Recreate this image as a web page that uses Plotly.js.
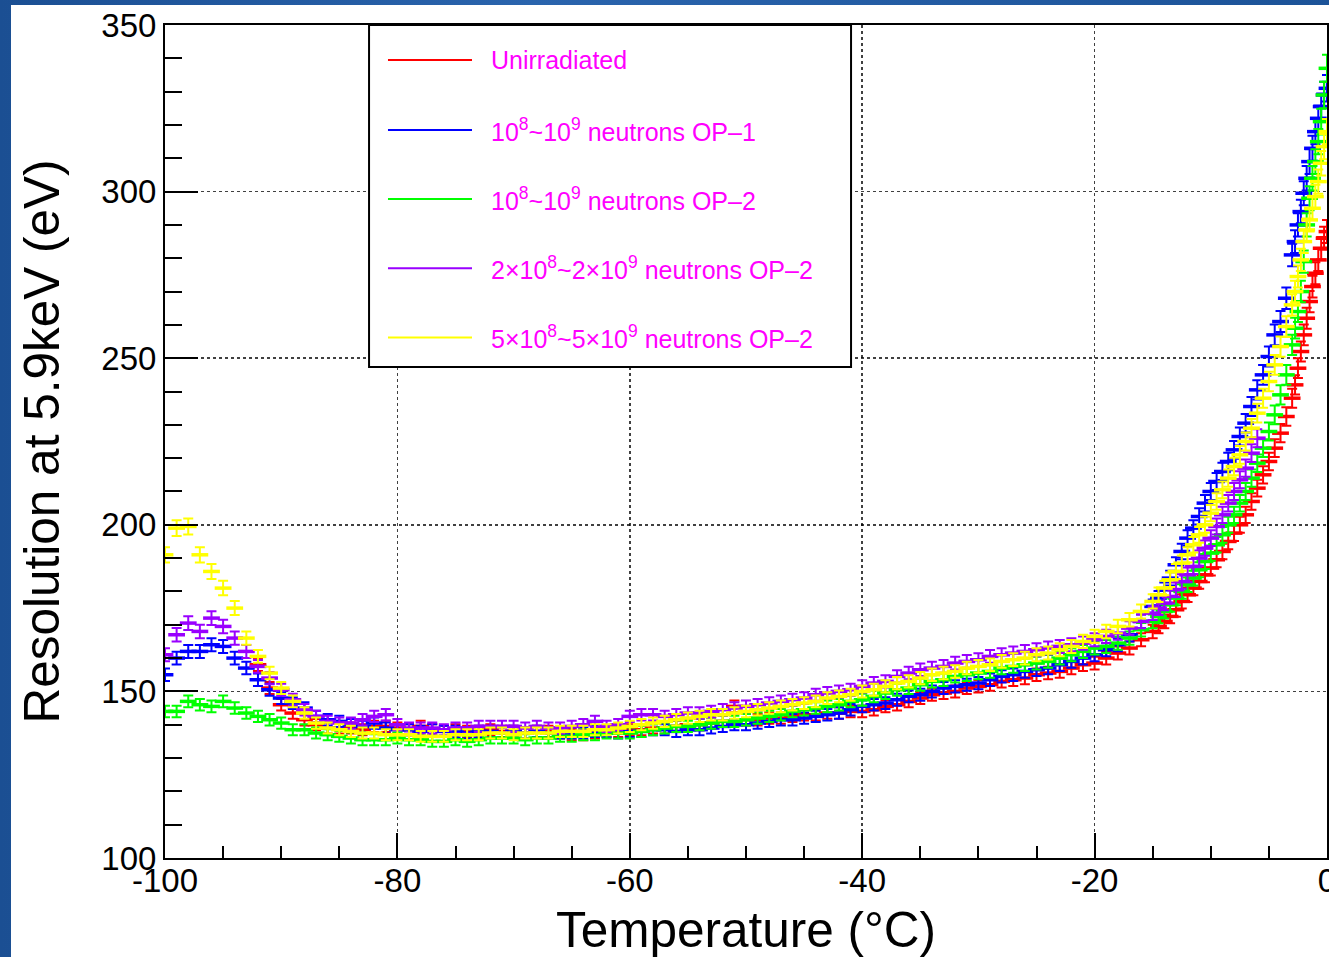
<!DOCTYPE html>
<html>
<head>
<meta charset="utf-8">
<script src="https://cdn.plot.ly/plotly-3.0.1.min.js"></script>
<style>
  html, body { margin: 0; padding: 0; width: 1329px; height: 957px; overflow: hidden;
    background: linear-gradient(90deg, #1b4f93 0%, #2a64ad 40%, #1c5398 100%); }
  #chart { position: absolute; left: 11px; top: 5px; width: 1318px; height: 952px; background: #fff; }
</style>
</head>
<body>
<div id="chart"></div>
<script>
// Temperature grid (°C) shared by all series
const temperature = [
  -100,-99,-98,-97,-96,-95,-94,-93,-92,-91,-90,-89,-88,-87,-86,-85,-84,-83,-82,-81,
  -80,-79,-78,-77,-76,-75,-74,-73,-72,-71,-70,-69,-68,-67,-66,-65,-64,-63,-62,-61,
  -60,-59,-58,-57,-56,-55,-54,-53,-52,-51,-50,-49,-48,-47,-46,-45,-44,-43,-42,-41,
  -40,-39,-38,-37,-36,-35,-34,-33,-32,-31,-30,-29,-28,-27,-26,-25,-24,-23,-22,-21,
  -20,-19,-18,-17,-16,-15,
  -14.5,-14,-13.5,-13,-12.5,-12,-11.5,-11,-10.5,-10,-9.5,-9,-8.5,-8,-7.5,-7,-6.5,-6,-5.5,-5,-4.5,-4,-3.5,
  -3,-2.75,-2.5,-2.25,-2,-1.75,-1.5,-1.25,-1,-0.75,-0.5,-0.25,0
];

// Resolution at 5.9 keV (eV)
const unirradiated = [
  null,null,null,null,null,null,null,null,158,151,146,143.5,141.5,140,139,139,139,138.5,139.5,139.5,
  139,138.5,139.5,138.5,138,138.5,138,138,138.5,138,138,137.5,138,138,137.5,137,137,137.5,138,138,
  138.5,138.5,139,139,139.5,140,140,140.5,141,145.5,141.5,141.5,142,142,142.5,143,143,143.5,143.5,144,
  144,144.5,145.5,146,147,148,149,149.5,150,151,151.5,152,153,153.5,154,155,155.5,156,157,158,
  158.5,160,161.5,163,165.5,168,
  169.5,171,172.5,174.5,177,179,181,183,185,187,189.5,192,195,197.5,200,203,207,211,215,219,223,227.5,232.5,
  238,242,247,252,257,262,267,271.5,275.5,279.5,283,286,288
];
const op1_1e8 = [
  155,160,162,162,164,163.5,160,157,153.5,150.5,148,146.5,145,142.5,141.5,141,140,139.5,140.5,139,
  138.5,138.5,138,138.5,138,138,137.5,138,138,137.5,138,137.5,138,137.5,137.5,137.5,137.5,138,138,137.5,
  138,138,138.5,138.5,138,138.5,138.5,139,139.5,140,140,140.5,141,141.5,141.5,142,142.5,143,143.5,144.5,
  145.5,146,146.5,147.5,148.5,149,150,151,151.5,152,152.5,153.5,154.5,155,156,156.5,157,158,159,160,
  161,162.5,164,167,171,175.5,
  178,180.5,184,188,192,196,199,202.5,206.5,210,213,216,219,222.5,226.5,230.5,235.5,240.5,245,250.5,257,261,268,
  281,285,290,294,299.5,304,309,313,318,322,325.5,329,331
];
const op2_1e8 = [
  144,144,147,146,145.5,147,145,143.5,142.5,141.5,140.5,138.5,138.5,137.5,137,136.5,136,135.5,135.5,135.5,
  136,135.5,135.5,135,135,135.5,135,135.5,136,136,136,135.5,136,136,136.5,136.5,137,137,137.5,137.5,
  137.5,138,138.5,139,139.5,139.5,140,140.5,141,141,141.5,142,142.5,143,144,144.5,145,145.5,146,147,
  147.5,148.5,149.5,150.5,151,152,153,153.5,154.5,155,155.5,156,157,157.5,158,158.5,159,160,161,162,
  163,163.5,164.5,166,168.5,171,
  172.5,174,176,178,180,182,184,186.5,189,191.5,194,197,200,203,206.5,210,214,218.5,223,228,233,239,245,
  254,259,264,270,279,290,298,304,309,315,321,329,337
];
const op2_2e8 = [
  161,167,170.5,168,172,169.5,166,162,157.5,154,150.5,147.5,144.5,142.5,141,140.5,140.5,141.5,142.5,143,
  140,139,139,139,138.5,139,139,139.5,139.5,139.5,139.5,139,139.5,139,139,139.5,140,141,139.5,140,
  142.5,143,143,142.5,143,143.5,143.5,144,144.5,145,145.5,146,146.5,147,147.5,148,149,149.5,150,150.5,
  151.5,152.5,153,154.5,155.5,156.5,157,157.5,158.5,159,159.5,160.5,161,161.5,162,162.5,163,163.5,164,164.5,
  165.5,166.5,167.5,169,171,173.5,
  175,176.5,178.5,180.5,183,185,187.5,190,193,196,199.5,203,206.5,210,213.5,217,221.5,226,null,null,null,null,null,
  null,null,null,null,null,null,null,null,null,null,null,null,null
];
const op2_5e8 = [
  191,199,199.5,191,186,181,175,166,160.5,155.5,151,147,143.5,140.5,139,138.5,138,137.5,137.5,137,
  137,137,136.5,136.5,136.5,137,137,137,137.5,137.5,137,137.5,137.5,137.5,138,138,138,138.5,138.5,139,
  139.5,140,140.5,141,141.5,142,142.5,143,143,143.5,144,144.5,145,145.5,146,146.5,147,148,148.5,149,
  150,150.5,151.5,152.5,153,154,155,155.5,156,157,157.5,158,159,159.5,160,161,161.5,162.5,163.5,165,
  166.5,168,169.5,171.5,174,177,
  179,181,183.5,186,188.5,191,194,197,200,203.5,207,210.5,214,217.5,221,225,229,233.5,238,243,248,253.5,259.5,
  266,270,274.5,279.5,285,288.5,291.5,295,298.5,303,308.5,313.5,318
];

const seriesValues = [unirradiated, op1_1e8, op2_1e8, op2_2e8, op2_5e8];
const seriesNames = [
  'Unirradiated',
  '10<sup>8</sup>~10<sup>9</sup> neutrons OP–1',
  '10<sup>8</sup>~10<sup>9</sup> neutrons OP–2',
  '2×10<sup>8</sup>~2×10<sup>9</sup> neutrons OP–2',
  '5×10<sup>8</sup>~5×10<sup>9</sup> neutrons OP–2'
];
const seriesColors = ['#ff0000', '#0000ff', '#00ff00', '#9900ff', '#ffff00'];

const xTickVals = [-100, -80, -60, -40, -20, 0];
const xTickLabels = ['-100', '-80', '-60', '-40', '-20', '0'];
const yTickVals = [100, 150, 200, 250, 300, 350];
const yTickLabels = ['100', '150', '200', '250', '300', '350'];

const traces = seriesValues.map((vals, i) => ({
  type: 'scatter',
  mode: 'markers',
  name: seriesNames[i],
  x: temperature,
  y: vals,
  showlegend: false,
  marker: { symbol: 'line-ew', size: 12, color: seriesColors[i],
            line: { color: seriesColors[i], width: 3.5 } },
  error_y: { type: 'percent', value: 1.2, color: seriesColors[i], thickness: 2, width: 5 }
}));

// hand-drawn ROOT-style legend box
const legX0 = 0.1756, legX1 = 0.5904, legY0 = 0.5894, legY1 = 1.0;
const legRowY = [0.958, 0.874, 0.791, 0.708, 0.625];
const shapes = [{
  type: 'rect', xref: 'paper', yref: 'paper', x0: legX0, x1: legX1, y0: legY0, y1: legY1,
  fillcolor: '#ffffff', line: { color: '#000', width: 2 }, layer: 'above'
}];
const annotations = [];
seriesNames.forEach((nm, i) => {
  shapes.push({ type: 'line', xref: 'paper', yref: 'paper', x0: 0.1919, x1: 0.2642,
    y0: legRowY[i], y1: legRowY[i], line: { color: seriesColors[i], width: 2 }, layer: 'above' });
  annotations.push({ xref: 'paper', yref: 'paper', x: 0.2790, y: legRowY[i], xanchor: 'left', yanchor: 'middle',
    text: nm, showarrow: false, font: { family: 'Liberation Sans, Arial, sans-serif', size: 25, color: '#ff00ff' } });
});

const axisFont = { family: 'Liberation Sans, Arial, sans-serif', size: 33, color: '#000' };
const layout = {
  width: 1318, height: 952,
  margin: { l: 154, r: 2, t: 20, b: 99 },
  paper_bgcolor: '#ffffff', plot_bgcolor: '#ffffff',
  font: { family: 'Liberation Sans, Arial, sans-serif', color: '#000' },
  xaxis: {
    range: [-100, 0], tickmode: 'array', tickvals: xTickVals, ticktext: xTickLabels,
    ticks: 'inside', ticklen: 25, tickwidth: 2, tickcolor: '#000',
    ticklabelstandoff: -8, ticklabeloverflow: 'allow',
    minor: { dtick: 5, tick0: -100, ticks: 'inside', ticklen: 12, tickwidth: 2, tickcolor: '#000', showgrid: false },
    showline: true, linewidth: 2, linecolor: '#000', mirror: true,
    showgrid: true, gridcolor: 'rgba(0,0,0,0.75)', griddash: 'dot', gridwidth: 1.5,
    zeroline: false, tickfont: axisFont,
    title: { text: 'Temperature (°C)', font: { family: 'Liberation Sans, Arial, sans-serif', size: 49.5, color: '#000' }, standoff: 19 }
  },
  yaxis: {
    range: [100, 350], tickmode: 'array', tickvals: yTickVals, ticktext: yTickLabels,
    ticks: 'inside', ticklen: 33, tickwidth: 2, tickcolor: '#000',
    minor: { dtick: 10, tick0: 100, ticks: 'inside', ticklen: 17, tickwidth: 2, tickcolor: '#000', showgrid: false },
    showline: true, linewidth: 2, linecolor: '#000', mirror: true,
    showgrid: true, gridcolor: 'rgba(0,0,0,0.75)', griddash: 'dot', gridwidth: 1.5,
    zeroline: false, tickfont: axisFont,
    title: { text: 'Resolution at 5.9keV (eV)', font: { family: 'Liberation Sans, Arial, sans-serif', size: 49.5, color: '#000' }, standoff: 26 }
  },
  shapes: shapes,
  annotations: annotations
};

Plotly.newPlot('chart', traces, layout, { displayModeBar: false, staticPlot: true });
</script>
</body>
</html>
